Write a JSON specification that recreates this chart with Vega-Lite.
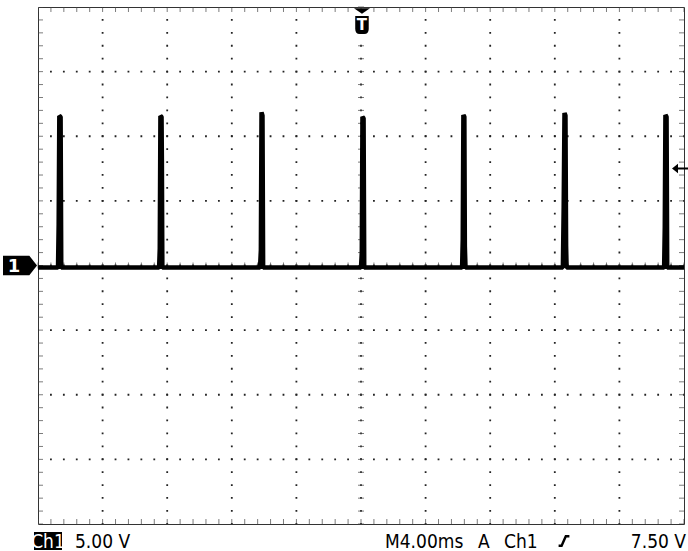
{
  "$schema": "https://vega.github.io/schema/vega-lite/v6.json",
  "width": 646,
  "height": 517,
  "autosize": "none",
  "padding": {"left": 38, "top": 7, "right": 4, "bottom": 27},
  "background": "white",
  "config": {
    "view": {"stroke": "#333", "strokeWidth": 1},
    "axis": {"disable": true},
    "text": {"font": "DejaVu Sans Condensed", "fontSize": 19, "color": "black"}
  },
  "datasets": {
    "one": [{"k": 1}],
    "trace": [
      {"t": -20, "v": -0.15},
      {"t": -18.76, "v": -0.15}, {"t": -18.72, "v": 3.2}, {"t": -18.68, "v": 11.57}, {"t": -18.6, "v": 11.5}, {"t": -18.56, "v": -0.15},
      {"t": -12.5, "v": -0.15}, {"t": -12.46, "v": 1.3}, {"t": -12.42, "v": 11.57}, {"t": -12.35, "v": 11.5}, {"t": -12.33, "v": 8.3}, {"t": -12.3, "v": -0.15},
      {"t": -6.25, "v": -0.15}, {"t": -6.2, "v": 1.2}, {"t": -6.16, "v": 11.85}, {"t": -6.1, "v": 11.6}, {"t": -6.06, "v": -0.15},
      {"t": 0.0, "v": -0.15}, {"t": 0.05, "v": 1.0}, {"t": 0.09, "v": 11.5}, {"t": 0.16, "v": 11.4}, {"t": 0.2, "v": -0.15},
      {"t": 6.26, "v": -0.15}, {"t": 6.3, "v": 2.0}, {"t": 6.34, "v": 11.65}, {"t": 6.4, "v": 11.5}, {"t": 6.43, "v": 1.5}, {"t": 6.47, "v": -0.15},
      {"t": 12.5, "v": -0.15}, {"t": 12.55, "v": 4.5}, {"t": 12.6, "v": 11.8}, {"t": 12.66, "v": 11.6}, {"t": 12.7, "v": 1.5}, {"t": 12.73, "v": -0.15},
      {"t": 18.77, "v": -0.15}, {"t": 18.81, "v": 3.0}, {"t": 18.85, "v": 11.65}, {"t": 18.92, "v": 11.5}, {"t": 18.96, "v": -0.15},
      {"t": 20, "v": -0.15}
    ],
    "majorX": [{"t": -16}, {"t": -12}, {"t": -8}, {"t": -4}, {"t": 0}, {"t": 4}, {"t": 8}, {"t": 12}, {"t": 16}],
    "majorY": [{"v": -15}, {"v": -10}, {"v": -5}, {"v": 0}, {"v": 5}, {"v": 10}, {"v": 15}],
    "minorX": [
      {"t": -20}, {"t": -19.2}, {"t": -18.4}, {"t": -17.6}, {"t": -16.8}, {"t": -16}, {"t": -15.2}, {"t": -14.4}, {"t": -13.6}, {"t": -12.8},
      {"t": -12}, {"t": -11.2}, {"t": -10.4}, {"t": -9.6}, {"t": -8.8}, {"t": -8}, {"t": -7.2}, {"t": -6.4}, {"t": -5.6}, {"t": -4.8},
      {"t": -4}, {"t": -3.2}, {"t": -2.4}, {"t": -1.6}, {"t": -0.8}, {"t": 0}, {"t": 0.8}, {"t": 1.6}, {"t": 2.4}, {"t": 3.2},
      {"t": 4}, {"t": 4.8}, {"t": 5.6}, {"t": 6.4}, {"t": 7.2}, {"t": 8}, {"t": 8.8}, {"t": 9.6}, {"t": 10.4}, {"t": 11.2},
      {"t": 12}, {"t": 12.8}, {"t": 13.6}, {"t": 14.4}, {"t": 15.2}, {"t": 16}, {"t": 16.8}, {"t": 17.6}, {"t": 18.4}, {"t": 19.2}, {"t": 20}
    ],
    "minorY": [
      {"v": -20}, {"v": -19}, {"v": -18}, {"v": -17}, {"v": -16}, {"v": -15}, {"v": -14}, {"v": -13}, {"v": -12}, {"v": -11},
      {"v": -10}, {"v": -9}, {"v": -8}, {"v": -7}, {"v": -6}, {"v": -5}, {"v": -4}, {"v": -3}, {"v": -2}, {"v": -1},
      {"v": 0}, {"v": 1}, {"v": 2}, {"v": 3}, {"v": 4}, {"v": 5}, {"v": 6}, {"v": 7}, {"v": 8}, {"v": 9},
      {"v": 10}, {"v": 11}, {"v": 12}, {"v": 13}, {"v": 14}, {"v": 15}, {"v": 16}, {"v": 17}, {"v": 18}, {"v": 19}, {"v": 20}
    ]
  },
  "layer": [
    {
      "data": {"name": "majorX"},
      "mark": {"type": "rule", "color": "#222", "strokeWidth": 1.8, "strokeDash": [1.8, 11.12], "strokeDashOffset": 0.9},
      "encoding": {"x": {"field": "t", "type": "quantitative", "scale": {"domain": [-20, 20], "nice": false, "zero": false}, "axis": null}}
    },
    {
      "data": {"name": "majorY"},
      "mark": {"type": "rule", "color": "#222", "strokeWidth": 1.8, "strokeDash": [1.8, 11.12], "strokeDashOffset": 0.9},
      "encoding": {"y": {"field": "v", "type": "quantitative", "scale": {"domain": [-20, 20], "nice": false, "zero": false}, "axis": null}}
    },
    {
      "data": {"name": "minorX"},
      "mark": {"type": "tick", "orient": "vertical", "color": "#444", "thickness": 1, "size": 6},
      "encoding": {"x": {"field": "t", "type": "quantitative", "axis": null}, "y": {"datum": 0}}
    },
    {
      "data": {"name": "minorX"},
      "mark": {"type": "tick", "orient": "vertical", "color": "#444", "thickness": 1, "size": 10, "clip": true},
      "encoding": {"x": {"field": "t", "type": "quantitative", "axis": null}, "y": {"datum": 20}}
    },
    {
      "data": {"name": "minorX"},
      "mark": {"type": "tick", "orient": "vertical", "color": "#444", "thickness": 1, "size": 10, "clip": true},
      "encoding": {"x": {"field": "t", "type": "quantitative", "axis": null}, "y": {"datum": -20}}
    },
    {
      "data": {"name": "minorY"},
      "mark": {"type": "tick", "orient": "horizontal", "color": "#444", "thickness": 1, "size": 6},
      "encoding": {"y": {"field": "v", "type": "quantitative", "axis": null}, "x": {"datum": 0}}
    },
    {
      "data": {"name": "minorY"},
      "mark": {"type": "tick", "orient": "horizontal", "color": "#444", "thickness": 1, "size": 10, "clip": true},
      "encoding": {"y": {"field": "v", "type": "quantitative", "axis": null}, "x": {"datum": -20}}
    },
    {
      "data": {"name": "minorY"},
      "mark": {"type": "tick", "orient": "horizontal", "color": "#444", "thickness": 1, "size": 10, "clip": true},
      "encoding": {"y": {"field": "v", "type": "quantitative", "axis": null}, "x": {"datum": 20}}
    },
    {
      "data": {"name": "trace"},
      "mark": {"type": "line", "color": "black", "strokeWidth": 4.5, "strokeJoin": "bevel", "clip": true},
      "encoding": {
        "x": {"field": "t", "type": "quantitative", "axis": null},
        "y": {"field": "v", "type": "quantitative", "axis": null}
      }
    },
    {
      "data": {"name": "one"},
      "mark": {"type": "point", "shape": "M-1,-0.58 L0.55,-0.58 L1,0 L0.55,0.58 L-1,0.58 Z", "size": 1156, "filled": true, "color": "black", "opacity": 1, "xOffset": -18},
      "encoding": {"x": {"datum": -20}, "y": {"datum": 0}}
    },
    {
      "data": {"name": "one"},
      "mark": {"type": "text", "text": "1", "color": "white", "font": "DejaVu Sans", "fontWeight": "bold", "fontSize": 18, "align": "center", "baseline": "middle", "dx": -24, "dy": 1},
      "encoding": {"x": {"datum": -20}, "y": {"datum": 0}}
    },
    {
      "data": {"name": "one"},
      "mark": {"type": "point", "shape": "M-1,-0.33 L1,-0.33 L0,0.33 Z", "size": 256, "filled": true, "color": "black", "opacity": 1, "yOffset": 4},
      "encoding": {"x": {"datum": 0.06}, "y": {"datum": 20}}
    },
    {
      "data": {"name": "one"},
      "mark": {"type": "point", "shape": "M-0.75,-1 L0.75,-1 L0.75,0.45 Q0.75,1 0.25,1 L-0.25,1 Q-0.75,1 -0.75,0.45 Z", "size": 324, "filled": true, "color": "black", "opacity": 1, "yOffset": 18},
      "encoding": {"x": {"datum": 0.06}, "y": {"datum": 20}}
    },
    {
      "data": {"name": "one"},
      "mark": {"type": "text", "text": "T", "color": "white", "font": "DejaVu Sans", "fontWeight": "bold", "fontSize": 15, "align": "center", "baseline": "middle", "dy": 18},
      "encoding": {"x": {"datum": 0.06}, "y": {"datum": 20}}
    },
    {
      "data": {"name": "one"},
      "mark": {"type": "point", "shape": "M-1,0 L-0.4,-0.48 L-0.4,-0.1 L1,-0.1 L1,0.1 L-0.4,0.1 L-0.4,0.48 Z", "size": 400, "filled": true, "color": "black", "opacity": 1, "xOffset": -2},
      "encoding": {"x": {"datum": 20}, "y": {"datum": 7.5}}
    },
    {
      "data": {"name": "one"},
      "mark": {"type": "rect", "color": "black", "xOffset": -4, "x2Offset": 24, "yOffset": 8, "y2Offset": 26},
      "encoding": {"x": {"datum": -20}, "x2": {"datum": -20}, "y": {"datum": -20}, "y2": {"datum": -20}}
    },
    {
      "data": {"name": "one"},
      "mark": {"type": "text", "text": "Ch1", "color": "white", "align": "center", "baseline": "alphabetic", "dx": 10, "dy": 24},
      "encoding": {"x": {"datum": -20}, "y": {"datum": -20}}
    },
    {
      "data": {"name": "one"},
      "mark": {"type": "text", "text": "5.00 V", "align": "left", "baseline": "alphabetic", "dx": 37, "dy": 24},
      "encoding": {"x": {"datum": -20}, "y": {"datum": -20}}
    },
    {
      "data": {"name": "one"},
      "mark": {"type": "text", "text": "M4.00ms", "align": "left", "baseline": "alphabetic", "dx": 347, "dy": 24},
      "encoding": {"x": {"datum": -20}, "y": {"datum": -20}}
    },
    {
      "data": {"name": "one"},
      "mark": {"type": "text", "text": "A", "align": "left", "baseline": "alphabetic", "dx": 440, "dy": 24},
      "encoding": {"x": {"datum": -20}, "y": {"datum": -20}}
    },
    {
      "data": {"name": "one"},
      "mark": {"type": "text", "text": "Ch1", "align": "left", "baseline": "alphabetic", "dx": 466, "dy": 24},
      "encoding": {"x": {"datum": -20}, "y": {"datum": -20}}
    },
    {
      "data": {"name": "one"},
      "mark": {"type": "point", "shape": "M-0.9,0.8 L-0.4,0.8 L0.3,-0.8 L0.9,-0.8", "size": 144, "filled": false, "color": "black", "strokeWidth": 2.4, "opacity": 1, "xOffset": 526, "yOffset": 17},
      "encoding": {"x": {"datum": -20}, "y": {"datum": -20}}
    },
    {
      "data": {"name": "one"},
      "mark": {"type": "text", "text": "7.50 V", "align": "right", "baseline": "alphabetic", "dx": 2, "dy": 24},
      "encoding": {"x": {"datum": 20}, "y": {"datum": -20}}
    }
  ]
}
